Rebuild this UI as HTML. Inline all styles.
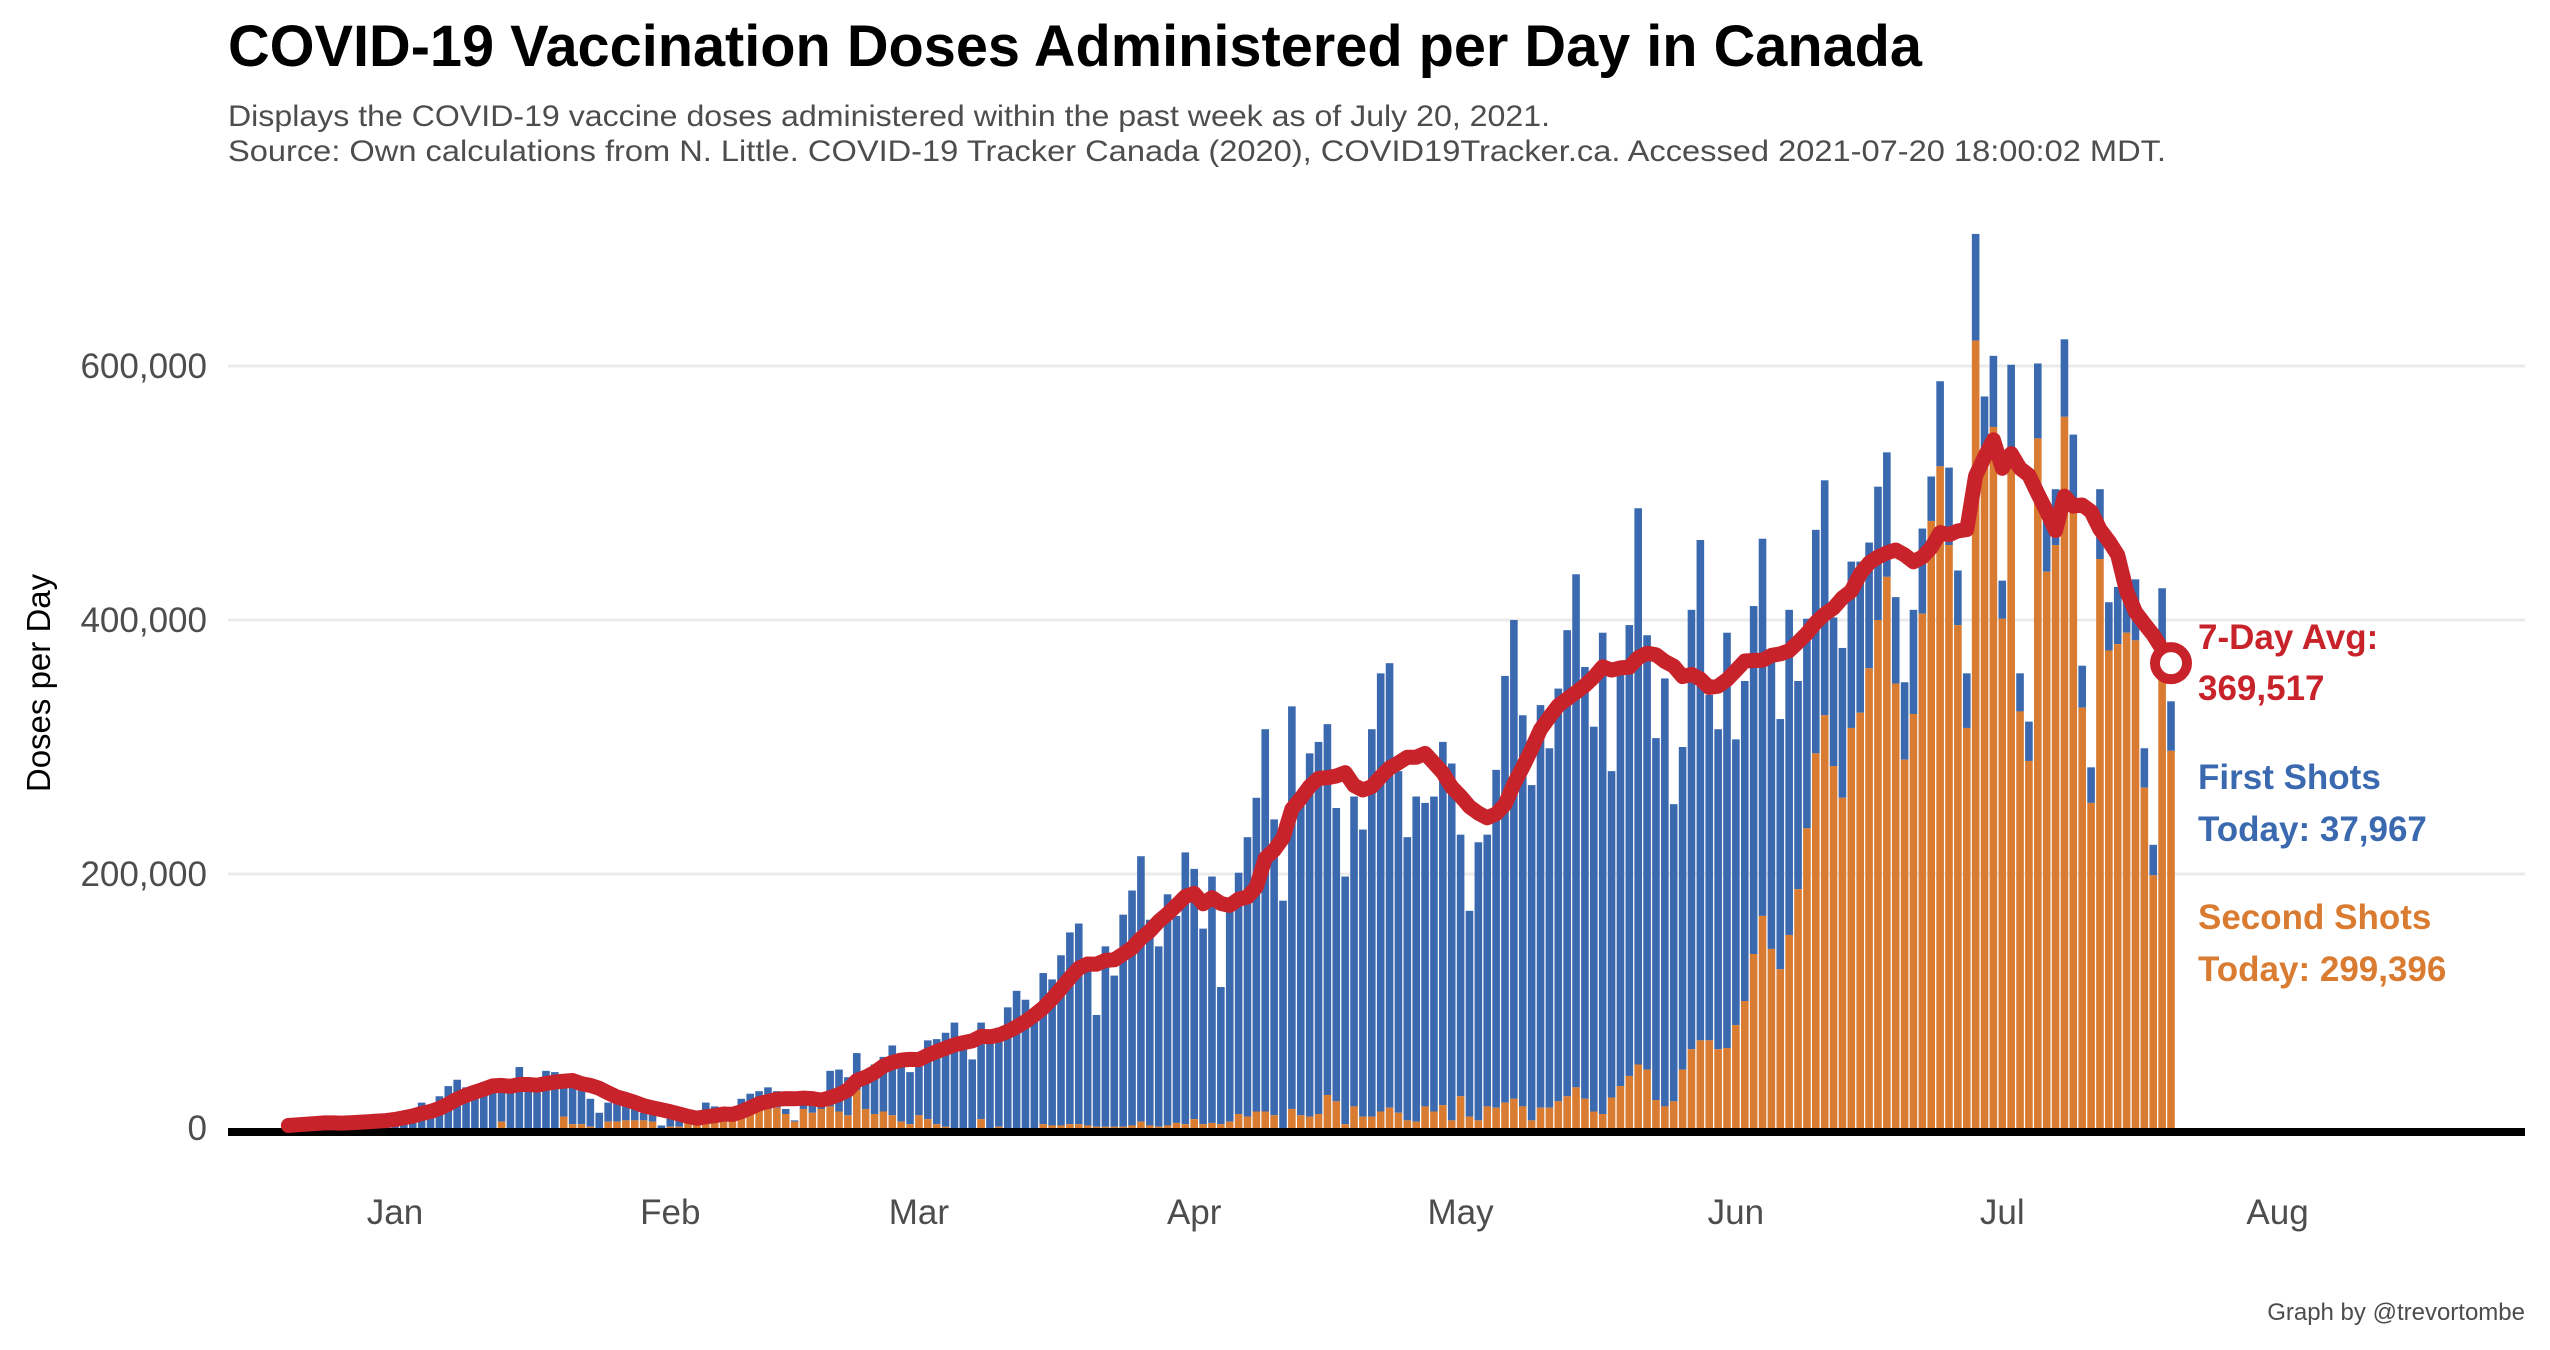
<!DOCTYPE html>
<html><head><meta charset="utf-8"><title>COVID-19 Vaccination Doses Administered per Day in Canada</title>
<style>html,body{margin:0;padding:0;background:#fff;}svg{display:block;font-family:"Liberation Sans",Arial,sans-serif;}</style>
</head><body>
<svg id="chart" width="2550" height="1350" viewBox="0 0 2550 1350" xmlns="http://www.w3.org/2000/svg">
<rect width="2550" height="1350" fill="#fff"/>
<text x="228" y="66" font-size="58" font-weight="bold" fill="#000" textLength="1694" lengthAdjust="spacingAndGlyphs">COVID-19 Vaccination Doses Administered per Day in Canada</text>
<text x="228" y="126" font-size="30" fill="#4d4d4d" textLength="1322" lengthAdjust="spacingAndGlyphs">Displays the COVID-19 vaccine doses administered within the past week as of July 20, 2021.</text>
<text x="228" y="161" font-size="30" fill="#4d4d4d" textLength="1938" lengthAdjust="spacingAndGlyphs">Source: Own calculations from N. Little. COVID-19 Tracker Canada (2020), COVID19Tracker.ca. Accessed 2021-07-20 18:00:02 MDT.</text>
<g id="grid"></g>
<g id="bars"></g>
<g id="axes"></g>
<g id="avg"></g>
<text transform="translate(50,683) rotate(-90)" text-anchor="middle" font-size="33" fill="#000">Doses per Day</text>
<g font-weight="bold" font-size="35">
<text x="2198" y="649" fill="#c8232b">7-Day Avg:</text>
<text x="2198" y="700" fill="#c8232b">369,517</text>
<text x="2198" y="789" fill="#3a69b0">First Shots</text>
<text x="2198" y="841" fill="#3a69b0">Today: 37,967</text>
<text x="2198" y="929" fill="#d97b30">Second Shots</text>
<text x="2198" y="981" fill="#d97b30">Today: 299,396</text>
</g>
<text x="2525" y="1320" text-anchor="end" font-size="24" fill="#4d4d4d">Graph by @trevortombe</text>
</svg>
<script>
// Day offsets relative to Jan 1, 2021; first value is Dec 20, 2020
const startDay = -12;
// Total doses per day (thousands)
const totalDoses = [2,3,4,5,6,4,3,4,6,7,8,9,
10,12,14,
20,18,25,33,38,32,32,36,36,28,28,48,32,28,45,44,33,32,30,23,12,20,21,19,16,12,11,2,9,8,6,6,20,17,11,7,23,27,29,32,29,15,6,27,24,21,45,46,40,59,45,50,56,65,
59,44,58,69,70,75,83,71,54,83,67,79,95,108,101,90,122,117,136,154,161,124,89,143,120,168,187,214,164,143,184,167,217,204,157,198,111,173,201,229,260,314,243,179,332,260,295,304,318,252,198,261,235,314,358,366,281,229,261,
256,261,304,287,231,171,225,231,282,356,400,325,270,333,299,346,392,436,363,316,390,281,358,396,488,388,307,354,255,300,408,463,341,314,390,306,352,411,464,368,322,408,352,401,
471,510,402,378,446,446,461,505,532,418,351,408,472,513,588,520,439,358,704,576,608,431,601,358,320,602,478,503,621,546,364,284,503,414,426,421,432,299,223,425,336];
// Second doses per day (thousands)
const secondDoses = [0,0,0,0,0,0,0,0,0,0,0,0,
0,0,0,
0,0,0,0,0,0,0,0,0,5,0,0,0,0,0,0,9,3,3,1,0,5,5,6,6,6,5,0,1,1,5,5,5,5,5,7,10,12,14,15,16,11,5,15,12,15,17,13,10,30,15,11,13,10,
5,3,10,7,3,1,0,0,0,7,0,1,0,0,0,0,3,2,2,3,3,2,1,1,1,1,2,5,2,1,2,4,3,7,3,4,3,5,11,9,13,13,10,0,15,10,9,11,26,21,3,17,9,9,13,16,12,6,5,
17,13,18,6,25,9,6,17,16,20,23,17,6,16,16,21,25,32,23,13,11,24,33,41,50,46,22,17,21,46,62,69,69,62,63,81,100,137,167,141,125,152,188,236,
295,325,285,260,315,327,362,400,434,350,290,326,405,478,521,459,396,315,620,521,552,401,521,328,289,543,438,459,560,488,331,256,448,376,381,390,384,268,199,360,297];
const monthLabels = ["Jan","Feb","Mar","Apr","May","Jun","Jul","Aug"];
const monthDays = [0,31,59,90,120,151,181,212];
const yTicks = [0,200,400,600];
const yTickLabels = ["0","200,000","400,000","600,000"];

const NS = "http://www.w3.org/2000/svg";
const X0 = 395, DX = 8.88, Y0 = 1128, DY = 1.27;
function xScale(day){ return X0 + day*DX; }
function yScale(v){ return Y0 - v*DY; }
function mk(tag, attrs, parent){ const e=document.createElementNS(NS,tag); for(const k in attrs) e.setAttribute(k,attrs[k]); parent.appendChild(e); return e; }

const grid=document.getElementById('grid');
yTicks.forEach((t,i)=>{
  if(t>0){
    const l=mk('line',{x1:228,x2:2525,y1:yScale(t),y2:yScale(t),stroke:'#ebebeb','stroke-width':3},grid);
    
    
  }
  const tx=mk('text',{x:207,y:yScale(t)+12,'text-anchor':'end','font-size':35,fill:'#4d4d4d'},grid);
  tx.textContent=yTickLabels[i];
  
  
});

const bars=document.getElementById('bars');
const bw=7.6;
totalDoses.forEach((tot,i)=>{
  const d=startDay+i, sec=secondDoses[i], x=xScale(d)-bw/2;
  const b=mk('rect',{x:x,y:yScale(tot),width:bw,height:(tot-sec)*DY,fill:'#3a69b0'},bars);
  
  
  if(sec>0){
    const o=mk('rect',{x:x,y:yScale(sec),width:bw,height:sec*DY,fill:'#d97b30'},bars);
    
    
  }
});

const axes=document.getElementById('axes');
const base=mk('rect',{x:228,y:Y0,width:2297,height:8,fill:'#000'},axes);


monthLabels.forEach((m,i)=>{
  const t=mk('text',{x:xScale(monthDays[i]),y:1224,'text-anchor':'middle','font-size':35,fill:'#4d4d4d'},axes);
  t.textContent=m;
  
  
});

// 7-day trailing average
const avg=[];
totalDoses.forEach((v,i)=>{ let s=0,n=0; for(let j=Math.max(0,i-6);j<=i;j++){s+=totalDoses[j];n++;} avg.push(s/n); });
let dstr='';
avg.forEach((v,i)=>{ dstr+=(i?'L':'M')+xScale(startDay+i).toFixed(1)+','+yScale(v).toFixed(1); });
const g=document.getElementById('avg');
const line=mk('path',{d:dstr,fill:'none',stroke:'#c8232b','stroke-width':15,'stroke-linejoin':'round','stroke-linecap':'round'},g);


const last=avg.length-1;
const c=mk('circle',{cx:xScale(startDay+last),cy:yScale(avg[last]),r:16,fill:'#fff',stroke:'#c8232b','stroke-width':10},g);


</script>
</body></html>
